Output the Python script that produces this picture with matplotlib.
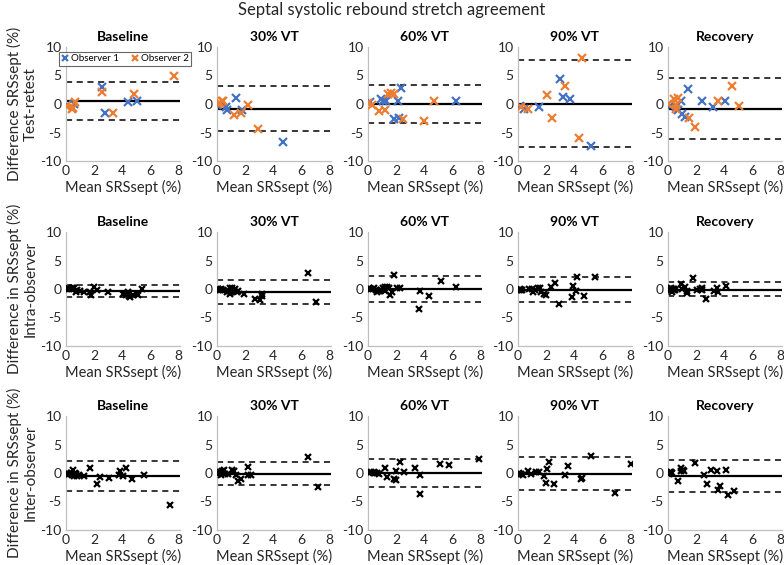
import matplotlib
matplotlib.use("Agg")
import matplotlib.pyplot as plt

plt.rcParams['font.family'] = ['Lato', 'DejaVu Sans']
plt.rcParams['axes.unicode_minus'] = False

# ---------------- data ----------------
stages = ["Baseline", "30% VT", "60% VT", "90% VT", "Recovery"]
row_labels = ["Difference SRSsept (%)\nTest-retest",
              "Difference in SRSsept (%)\nIntra-observer",
              "Difference in SRSsept (%)\nInter-observer"]
legend_labels = ["Observer 1", "Observer 2"]
x_ticks = [0, 2, 4, 6, 8]
y_ticks = [-10, -5, 0, 5, 10]

# Row 1: test-retest (observer 1 blue, observer 2 orange)
tr_base_o1_x = [0.05, 0.6, 2.55, 2.8, 4.45, 5.05]
tr_base_o1_y = [-0.1, 0.0, 2.9, -1.6, 0.3, 0.6]
tr_base_o2_x = [0.0, 0.4, 0.5, 0.65, 2.6, 3.35, 4.85, 7.7]
tr_base_o2_y = [-0.3, -0.8, -0.7, 0.4, 2.1, -1.5, 1.8, 5.0]
tr_base_lim = [0.6, 3.85, -2.8]

tr_30_o1_x = [0.0, 0.65, 0.7, 1.35, 1.8, 4.7]
tr_30_o1_y = [-0.1, -0.5, -1.0, 1.0, -1.0, -6.6]
tr_30_o2_x = [0.1, 0.2, 0.35, 0.45, 1.2, 1.75, 2.2, 2.95]
tr_30_o2_y = [0.0, 0.2, 0.5, 0.6, -2.0, -1.5, -0.1, -4.4]
tr_30_lim = [-0.8, 3.2, -4.8]

tr_60_o1_x = [0.15, 0.9, 1.1, 1.3, 1.85, 2.15, 2.2, 2.35, 6.3]
tr_60_o1_y = [0.3, 0.8, 0.6, 0.5, -2.7, 0.6, -2.5, 2.8, 0.5]
tr_60_o2_x = [0.0, 0.3, 0.8, 1.2, 1.45, 1.65, 1.85, 2.5, 4.0, 4.7]
tr_60_o2_y = [0.1, -0.2, -1.2, -1.1, 1.8, 1.9, 1.8, -2.6, -3.0, 0.6]
tr_60_lim = [0.0, 3.4, -3.3]

tr_90_o1_x = [0.15, 0.45, 1.5, 3.0, 3.25, 3.7, 5.25]
tr_90_o1_y = [-0.4, -0.9, -0.5, 4.4, 1.3, 0.9, -7.4]
tr_90_o2_x = [0.25, 0.7, 2.05, 2.4, 3.35, 4.35, 4.6]
tr_90_o2_y = [-0.5, -0.8, 1.5, -2.4, 3.1, -5.9, 8.0]
tr_90_lim = [0.05, 7.8, -7.6]

tr_rec_o1_x = [0.15, 0.55, 0.75, 0.95, 1.0, 1.2, 1.4, 2.4, 3.2, 4.05]
tr_rec_o1_y = [-0.3, -0.6, -1.0, 0.6, -1.8, -2.2, 2.7, 0.6, -0.5, 0.6]
tr_rec_o2_x = [0.0, 0.45, 0.6, 0.6, 0.75, 1.5, 1.9, 3.6, 4.6, 5.05]
tr_rec_o2_y = [0.0, 0.8, -0.8, -0.2, 1.1, -2.5, -4.0, 0.6, 3.2, -0.4]
tr_rec_lim = [-0.8, 4.6, -6.1]

# Row 2: intra-observer
intra_base_x = [0.05, 0.15, 0.25, 0.4, 0.5, 0.6, 0.7, 0.8, 1.0, 1.3, 1.7, 1.8,
                2.0, 2.2, 3.0, 4.1, 4.3, 4.4, 4.5, 4.6, 4.8, 5.1, 5.15, 5.4]
intra_base_y = [0.0, 0.1, 0.0, 0.1, 0.2, 0.1, -0.5, -0.2, -0.3, -0.6, -0.5, -1.1,
                0.3, -0.1, -0.6, -0.8, -1.0, -0.6, -1.2, -1.4, -1.1, -0.8, -1.1, 0.0]
intra_base_lim = [-0.35, 0.7, -1.45]

intra_30_x = [0.05, 0.1, 0.2, 0.3, 0.4, 0.75, 0.85, 0.9, 0.95, 1.0, 1.05, 1.1,
              1.2, 1.3, 1.4, 1.5, 1.9, 2.7, 3.05, 3.2, 3.25, 6.5, 7.1]
intra_30_y = [0.0, 0.0, -0.1, 0.0, -0.1, -0.6, -0.3, -0.8, 0.2, -0.6, 0.2, -0.2,
              -0.4, 0.0, -0.5, -0.3, -0.9, -1.7, -2.0, -1.3, -0.8, 2.8, -2.3]
intra_30_lim = [-0.45, 1.5, -2.55]

intra_60_x = [0.1, 0.2, 0.35, 0.45, 0.55, 0.65, 0.8, 0.95, 1.1, 1.2, 1.25, 1.35,
              1.5, 1.6, 1.7, 1.85, 2.1, 2.3, 3.65, 3.7, 4.35, 5.25, 6.3]
intra_60_y = [0.1, 0.0, 0.0, 0.1, -0.2, -0.5, -0.3, -0.1, 0.2, -0.4, 0.4, 0.4,
              0.1, -1.1, -0.6, 2.5, 0.2, 0.2, -3.5, -0.3, -1.3, 1.4, 0.4]
intra_60_lim = [-0.05, 2.25, -2.3]

intra_90_x = [0.1, 0.15, 0.2, 0.3, 0.8, 1.0, 1.05, 1.2, 1.4, 1.55, 1.65, 1.85,
              2.0, 2.35, 2.65, 2.95, 3.85, 3.95, 4.15, 4.2, 4.7, 5.5]
intra_90_y = [-0.1, 0.0, -0.1, -0.1, 0.0, 0.0, -0.6, -0.2, 0.1, 0.2, -0.6, -0.8,
              -1.0, 0.3, 1.0, -2.6, -1.4, 0.6, -0.3, 2.1, -1.2, 2.1]
intra_90_lim = [-0.1, 2.1, -2.35]

intra_rec_x = [0.05, 0.1, 0.2, 0.25, 0.3, 0.35, 0.4, 0.45, 0.5, 0.9, 1.0, 1.2,
               1.35, 1.35, 1.8, 2.1, 2.3, 2.45, 2.45, 2.75, 3.3, 3.5, 3.55, 4.15]
intra_rec_y = [0.0, -0.1, -0.2, 0.1, -0.6, 0.0, -0.2, 0.0, -0.1, 0.8, 0.0, 0.3,
               -0.4, -0.7, 1.9, -0.1, 0.0, 0.2, -0.2, -1.7, -0.3, 0.1, -0.5, 0.5]
intra_rec_lim = [-0.1, 1.25, -1.3]

# Row 3: inter-observer
inter_base_x = [0.05, 0.15, 0.25, 0.35, 0.45, 0.5, 0.6, 0.65, 0.7, 0.8, 0.9, 1.3,
                1.75, 2.2, 2.4, 3.05, 3.8, 3.85, 4.05, 4.3, 4.7, 5.6, 7.45]
inter_base_y = [0.0, -0.1, -0.2, 0.0, -0.3, 0.5, -0.6, 0.0, -0.2, -0.5, -0.3, -0.5,
                0.8, -2.0, -0.7, -0.8, -0.4, 0.4, -0.5, 0.8, -1.1, -0.4, -5.7]
inter_base_lim = [-0.5, 2.1, -3.2]

inter_30_x = [0.05, 0.1, 0.2, 0.3, 0.35, 0.45, 0.5, 0.6, 0.8, 1.1, 1.25, 1.35,
              1.5, 1.7, 2.2, 2.25, 2.4, 6.5, 7.25]
inter_30_y = [0.0, -0.2, 0.2, -0.4, 0.4, 0.0, 0.5, -0.2, -0.1, 0.5, 0.3, -0.3,
              -1.4, -1.0, 1.1, -0.3, -0.3, 2.8, -2.5]
inter_30_lim = [-0.1, 2.0, -2.1]

inter_60_x = [0.1, 0.25, 0.4, 0.5, 0.65, 0.8, 1.2, 1.35, 1.85, 2.0, 2.0, 2.3,
              2.55, 3.35, 3.7, 3.7, 5.15, 5.8, 7.9]
inter_60_y = [0.0, 0.1, 0.1, 0.0, 0.0, -0.1, 0.9, -0.7, -1.0, 0.3, -1.3, 1.9,
              0.1, 0.9, -0.3, -3.7, 1.6, 1.4, 2.5]
inter_60_lim = [0.05, 2.5, -2.4]

inter_90_x = [0.05, 0.25, 0.35, 0.7, 0.95, 1.3, 1.5, 1.85, 2.0, 2.1, 2.25, 2.6,
              3.35, 3.6, 4.5, 4.6, 5.2, 6.95, 8.1]
inter_90_y = [0.0, -0.2, -0.3, 0.3, -0.2, 0.1, 0.1, -0.5, -1.7, 0.7, 1.9, -1.9,
              -0.3, 1.3, -1.0, -0.9, 2.9, -3.5, 1.6]
inter_90_lim = [-0.1, 2.85, -2.9]

inter_rec_x = [0.05, 0.1, 0.15, 0.25, 0.3, 0.7, 0.9, 0.95, 1.05, 1.15, 1.9, 2.55,
               2.8, 3.1, 3.5, 3.6, 3.75, 4.15, 4.3, 4.7]
inter_rec_y = [0.0, -0.1, 0.2, 0.2, 0.0, -1.4, 0.8, 0.3, 0.5, 0.4, 1.8, -0.3,
               -1.9, 0.5, 0.4, -2.9, -2.3, 0.5, -3.9, -3.1]
inter_rec_lim = [-0.5, 2.35, -3.3]

# ---------------- assemble ----------------
row1 = [(tr_base_o1_x, tr_base_o1_y, tr_base_o2_x, tr_base_o2_y, tr_base_lim),
        (tr_30_o1_x, tr_30_o1_y, tr_30_o2_x, tr_30_o2_y, tr_30_lim),
        (tr_60_o1_x, tr_60_o1_y, tr_60_o2_x, tr_60_o2_y, tr_60_lim),
        (tr_90_o1_x, tr_90_o1_y, tr_90_o2_x, tr_90_o2_y, tr_90_lim),
        (tr_rec_o1_x, tr_rec_o1_y, tr_rec_o2_x, tr_rec_o2_y, tr_rec_lim)]
row2 = [(intra_base_x, intra_base_y, intra_base_lim),
        (intra_30_x, intra_30_y, intra_30_lim),
        (intra_60_x, intra_60_y, intra_60_lim),
        (intra_90_x, intra_90_y, intra_90_lim),
        (intra_rec_x, intra_rec_y, intra_rec_lim)]
row3 = [(inter_base_x, inter_base_y, inter_base_lim),
        (inter_30_x, inter_30_y, inter_30_lim),
        (inter_60_x, inter_60_y, inter_60_lim),
        (inter_90_x, inter_90_y, inter_90_lim),
        (inter_rec_x, inter_rec_y, inter_rec_lim)]

BLUE = "#4472C4"
ORANGE = "#ED7D31"
W, H = 784, 565
fig = plt.figure(figsize=(W / 100, H / 100), dpi=100)

col_left = [66, 217, 368, 518, 668]
row_top = [47, 232, 416]
ax_w, ax_h = 114, 114
XMAX = 8.15


def style(ax, r, c):
    ax.set_xlim(0, XMAX)
    ax.set_ylim(-10, 10)
    ax.set_xticks(x_ticks)
    ax.set_yticks(y_ticks)
    for s in ("top", "right"):
        ax.spines[s].set_visible(False)
    for s in ("left", "bottom"):
        ax.spines[s].set_color("#bfbfbf")
        ax.spines[s].set_linewidth(0.9)
    ax.tick_params(length=0, labelsize=10, labelcolor="#262626", pad=3)
    ax.set_title(stages[c], fontsize=10, fontweight="bold", pad=4)
    ax.set_xlabel("Mean SRSsept (%)", fontsize=10.5, labelpad=2, color="#262626")
    if c == 0:
        ax.set_ylabel(row_labels[r], fontsize=11, color="#262626", labelpad=2)
    ax.set_facecolor("none")


def limits(ax, lim):
    mean, up, lo = lim
    ax.axhline(mean, color="black", lw=1.6, zorder=1)
    ax.axhline(up, color="black", lw=1.1, ls=(0, (4, 3)), zorder=1)
    ax.axhline(lo, color="black", lw=1.1, ls=(0, (4, 3)), zorder=1)


for r in range(3):
    for c in range(5):
        l = col_left[c] / W
        b = 1 - (row_top[r] + ax_h) / H
        ax = fig.add_axes([l, b, ax_w / W, ax_h / H])
        style(ax, r, c)
        if r == 0:
            x1, y1, x2, y2, lim = row1[c]
            limits(ax, lim)
            ax.plot(x1, y1, "x", color=BLUE, ms=5.5, mew=1.6, label=legend_labels[0], zorder=3)
            ax.plot(x2, y2, "x", color=ORANGE, ms=5.5, mew=1.6, label=legend_labels[1], zorder=3)
            if c == 0:
                leg = ax.legend(loc="upper center", ncol=2, fontsize=7, frameon=True,
                                fancybox=False, edgecolor="#404040", borderpad=0.25,
                                handletextpad=0.3, columnspacing=1.2, handlelength=0.7,
                                markerscale=0.8, bbox_to_anchor=(0.52, 1.0))
                leg.get_frame().set_linewidth(0.8)
        else:
            x, y, lim = (row2 if r == 1 else row3)[c]
            limits(ax, lim)
            ax.plot(x, y, "x", color="black", ms=5, mew=1.6, zorder=3)

fig.text(0.5, 1 - 10 / H, "Septal systolic rebound stretch agreement",
         ha="center", va="center", fontsize=12, color="#262626")

fig.savefig("out.png", dpi=100)
